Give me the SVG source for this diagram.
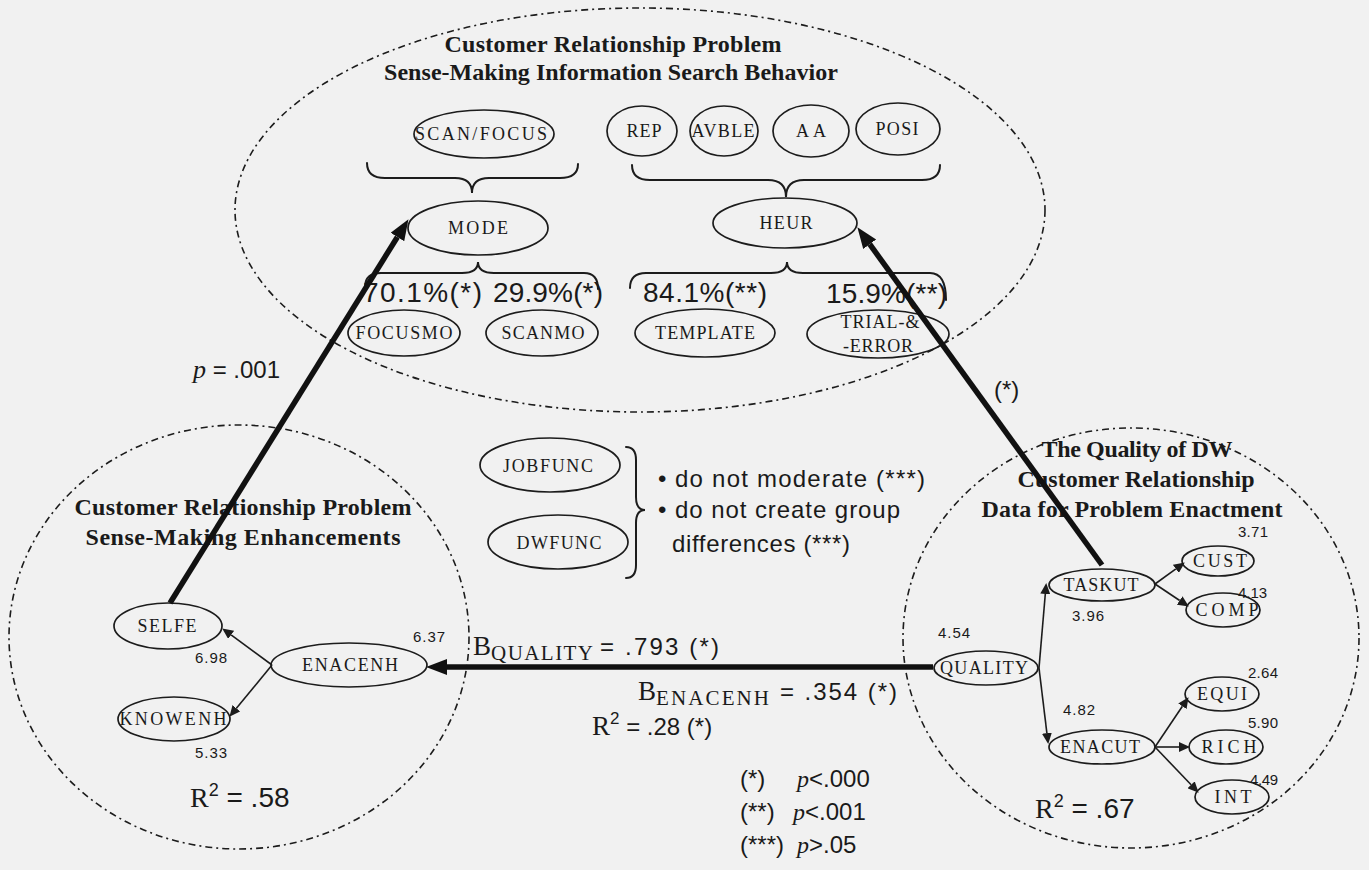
<svg xmlns="http://www.w3.org/2000/svg" width="1369" height="870" viewBox="0 0 1369 870">
  <defs>
    <style>
      .bg { fill: #f1f1f1; }
      .zone { fill: none; stroke: #1c1c1c; stroke-width: 1.6; stroke-dasharray: 7 4 2 4; }
      .node { fill: none; stroke: #1c1c1c; stroke-width: 1.7; }
      .brace { fill: none; stroke: #1c1c1c; stroke-width: 2; stroke-linecap: round; }
      .thick { fill: none; stroke: #111; stroke-width: 5.5; }
      .thin { fill: none; stroke: #1c1c1c; stroke-width: 1.6; }
      .title { font-family: "Liberation Serif", serif; font-weight: bold; font-size: 24px; fill: #1a1a1a; text-anchor: middle; }
      .lbl { font-family: "Liberation Serif", serif; font-size: 18px; fill: #1a1a1a; text-anchor: middle; }
      .num { font-family: "Liberation Sans", sans-serif; font-size: 15px; fill: #1a1a1a; }
      .big { font-family: "Liberation Sans", sans-serif; font-size: 28px; fill: #1a1a1a; }
      .mid { font-family: "Liberation Sans", sans-serif; font-size: 24px; fill: #1a1a1a; }
      .serif { font-family: "Liberation Serif", serif; }
      .it { font-family: "Liberation Serif", serif; font-style: italic; }
    </style>
    <marker id="headThick" markerUnits="userSpaceOnUse" markerWidth="22" markerHeight="18" refX="0" refY="8" orient="auto">
      <path d="M0,0 L21,8 L0,16 z" fill="#111"/>
    </marker>
    <marker id="headThin" markerUnits="userSpaceOnUse" markerWidth="12" markerHeight="10" refX="0" refY="5" orient="auto">
      <path d="M0,0 L11,5 L0,10 z" fill="#1c1c1c"/>
    </marker>
  </defs>

  <rect class="bg" x="0" y="0" width="1369" height="870"/>

  <!-- Information search behaviour cluster -->
  <g id="search-behavior">
    <ellipse class="zone" cx="640" cy="210" rx="405" ry="202"/>
    <text class="title" x="613" y="52" textLength="337">Customer Relationship Problem</text>
    <text class="title" x="611" y="80" textLength="454">Sense-Making Information Search Behavior</text>
    <path class="brace" d="M367,163 Q367,178 385,178 L455,178 Q472,178 472,193 Q472,178 489,178 L560,178 Q578,178 578,164"/>
    <path class="brace" d="M632,165 Q632,180 650,180 L768,180 Q786,180 786,197 Q786,180 804,180 L922,180 Q940,180 940,165"/>
    <path class="brace" d="M365,287 Q365,273 381,273 L462,273 Q478,273 478,262 Q478,273 494,273 L584,273 Q598,273 598,289"/>
    <path class="brace" d="M630,288 Q630,273 646,273 L771,273 Q787,273 787,262 Q787,273 803,273 L930,273 Q946,273 946,300"/>
    <text class="big" x="363" y="302" textLength="119">70.1%(*)</text>
    <text class="big" x="493" y="302" textLength="110">29.9%(*)</text>
    <text class="big" x="643" y="302" textLength="124">84.1%(**)</text>
    <text class="big" x="826" y="303" textLength="121">15.9%(**)</text>
  </g>

  <g id="node-scanfocus">
    <ellipse class="node" cx="484" cy="134" rx="70" ry="24"/>
    <text class="lbl" x="481" y="140" textLength="132">SCAN/FOCUS</text>
  </g>
  <g id="node-rep">
    <ellipse class="node" cx="642" cy="131" rx="35" ry="25"/>
    <text class="lbl" x="644" y="137" textLength="35">REP</text>
  </g>
  <g id="node-avble">
    <ellipse class="node" cx="724" cy="131" rx="34" ry="25"/>
    <text class="lbl" x="723" y="137" textLength="63">AVBLE</text>
  </g>
  <g id="node-aa">
    <ellipse class="node" cx="811" cy="131" rx="38" ry="26"/>
    <text class="lbl" x="811" y="137" textLength="30">AA</text>
  </g>
  <g id="node-posi">
    <ellipse class="node" cx="898" cy="129" rx="42" ry="26"/>
    <text class="lbl" x="897" y="135" textLength="43">POSI</text>
  </g>
  <g id="node-mode">
    <ellipse class="node" cx="478" cy="228" rx="70" ry="27"/>
    <text class="lbl" x="478" y="234" textLength="60">MODE</text>
  </g>
  <g id="node-heur">
    <ellipse class="node" cx="785" cy="223" rx="72" ry="25"/>
    <text class="lbl" x="786" y="229" textLength="53">HEUR</text>
  </g>
  <g id="node-focusmo">
    <ellipse class="node" cx="404" cy="333" rx="56" ry="23"/>
    <text class="lbl" x="404" y="339" textLength="97">FOCUSMO</text>
  </g>
  <g id="node-scanmo">
    <ellipse class="node" cx="542" cy="333" rx="56" ry="23"/>
    <text class="lbl" x="543" y="339" textLength="83">SCANMO</text>
  </g>
  <g id="node-template">
    <ellipse class="node" cx="705" cy="333" rx="70" ry="24"/>
    <text class="lbl" x="705" y="339" textLength="100">TEMPLATE</text>
  </g>
  <g id="node-trial-error">
    <ellipse class="node" cx="878" cy="334" rx="71" ry="24"/>
    <text class="lbl" x="880" y="328" font-size="16" textLength="79">TRIAL-&amp;</text>
    <text class="lbl" x="878" y="352" font-size="16" textLength="70">-ERROR</text>
  </g>

  <!-- Enhancements cluster -->
  <g id="enhancements">
    <ellipse class="zone" cx="239" cy="637" rx="230" ry="212"/>
    <text class="title" x="243" y="515" textLength="337">Customer Relationship Problem</text>
    <text class="title" x="243" y="545" textLength="315">Sense-Making Enhancements</text>
    <text class="num" x="195" y="663" textLength="32">6.98</text>
    <text class="num" x="413" y="642" textLength="32">6.37</text>
    <text class="num" x="195" y="758" textLength="32">5.33</text>
    <text class="big" x="190" y="807"><tspan class="serif">R</tspan><tspan font-size="18" dy="-11">2</tspan><tspan dy="11"> = .58</tspan></text>
  </g>
  <g id="node-selfe">
    <ellipse class="node" cx="168" cy="626" rx="54" ry="23"/>
    <text class="lbl" x="167" y="632" textLength="59">SELFE</text>
  </g>
  <g id="node-enacenh">
    <ellipse class="node" cx="349" cy="665" rx="78" ry="22"/>
    <text class="lbl" x="350" y="671" textLength="96">ENACENH</text>
  </g>
  <g id="node-knowenh">
    <ellipse class="node" cx="174" cy="719" rx="56" ry="22"/>
    <text class="lbl" x="173" y="725" textLength="107">KNOWENH</text>
  </g>

  <!-- Moderators -->
  <g id="node-jobfunc">
    <ellipse class="node" cx="550" cy="465" rx="70" ry="27"/>
    <text class="lbl" x="548" y="472" textLength="90">JOBFUNC</text>
  </g>
  <g id="node-dwfunc">
    <ellipse class="node" cx="558" cy="542" rx="70" ry="27"/>
    <text class="lbl" x="559" y="549" textLength="85">DWFUNC</text>
  </g>
  <g id="moderator-note">
    <path class="brace" d="M626,447 Q636,447 636,460 L636,497 Q636,510 645,510 Q636,510 636,523 L636,565 Q636,578 626,578"/>
    <text class="mid" x="658" y="487">• <tspan x="675" textLength="250">do not moderate (***)</tspan></text>
    <text class="mid" x="658" y="518">• <tspan x="675" textLength="225">do not create group</tspan></text>
    <text class="mid" x="672" y="552" textLength="178">differences (***)</text>
  </g>

  <!-- Data quality cluster -->
  <g id="data-quality">
    <ellipse class="zone" cx="1131" cy="638" rx="228" ry="210"/>
    <text class="title" x="1137" y="457" textLength="191">The Quality of DW</text>
    <text class="title" x="1136" y="487" textLength="237">Customer Relationship</text>
    <text class="title" x="1132" y="517" textLength="301">Data for Problem Enactment</text>
    <text class="num" x="1238" y="537" textLength="30">3.71</text>
    <text class="num" x="1238" y="598" textLength="29">4.13</text>
    <text class="num" x="1072" y="621" textLength="32">3.96</text>
    <text class="num" x="938" y="638" textLength="32">4.54</text>
    <text class="num" x="1063" y="715" textLength="32">4.82</text>
    <text class="num" x="1248" y="678" textLength="30">2.64</text>
    <text class="num" x="1248" y="728" textLength="30">5.90</text>
    <text class="num" x="1250" y="785" textLength="28">4.49</text>
    <text class="big" x="1035" y="818"><tspan class="serif">R</tspan><tspan font-size="18" dy="-11">2</tspan><tspan dy="11"> = .67</tspan></text>
  </g>
  <g id="node-taskut">
    <ellipse class="node" cx="1102" cy="585" rx="53" ry="16"/>
    <text class="lbl" x="1101" y="591" textLength="75">TASKUT</text>
  </g>
  <g id="node-cust">
    <ellipse class="node" cx="1218" cy="561" rx="36" ry="15"/>
    <text class="lbl" x="1220" y="567" textLength="54">CUST</text>
  </g>
  <g id="node-comp">
    <ellipse class="node" cx="1223" cy="610" rx="37" ry="17"/>
    <text class="lbl" x="1227" y="616" textLength="63">COMP</text>
  </g>
  <g id="node-quality">
    <ellipse class="node" cx="986" cy="668" rx="52" ry="17"/>
    <text class="lbl" x="984" y="674" textLength="88">QUALITY</text>
  </g>
  <g id="node-enacut">
    <ellipse class="node" cx="1102" cy="747" rx="53" ry="17"/>
    <text class="lbl" x="1100" y="753" textLength="80">ENACUT</text>
  </g>
  <g id="node-equi">
    <ellipse class="node" cx="1222" cy="694" rx="37" ry="17"/>
    <text class="lbl" x="1222" y="700" textLength="50">EQUI</text>
  </g>
  <g id="node-rich">
    <ellipse class="node" cx="1226" cy="747" rx="37" ry="17"/>
    <text class="lbl" x="1229" y="753" textLength="55">RICH</text>
  </g>
  <g id="node-int">
    <ellipse class="node" cx="1232" cy="797" rx="37" ry="17"/>
    <text class="lbl" x="1233" y="803" textLength="37">INT</text>
  </g>

  <!-- Path coefficients and legend -->
  <g id="path-labels">
    <text class="mid" x="193" y="378"><tspan class="it" font-size="26">p</tspan> = .001</text>
    <text class="mid" x="994" y="398">(*)</text>
    <text class="mid" x="473" y="655"><tspan class="serif" font-size="27">B</tspan><tspan class="serif" font-size="21" dy="5" textLength="102">QUALITY</tspan><tspan x="600" dy="-5" textLength="119">= .793 (*)</tspan></text>
    <text class="mid" x="638" y="700"><tspan class="serif" font-size="27">B</tspan><tspan class="serif" font-size="21" dy="5" textLength="113">ENACENH</tspan><tspan x="780" dy="-5" textLength="117">= .354 (*)</tspan></text>
    <text class="mid" x="592" y="735"><tspan class="serif" font-size="27">R</tspan><tspan font-size="17" dy="-11">2</tspan><tspan dy="11"> = .28 (*)</tspan></text>
    <text class="mid" x="740" y="787">(*)<tspan x="797"><tspan class="it">p</tspan>&lt;.000</tspan></text>
    <text class="mid" x="740" y="820">(**)<tspan x="793"><tspan class="it">p</tspan>&lt;.001</tspan></text>
    <text class="mid" x="740" y="853">(***)<tspan x="797"><tspan class="it">p</tspan>&gt;.05</tspan></text>
  </g>

  <!-- Connectors -->
  <g id="connectors">
    <path class="thick" d="M170,603 L397.4,237" marker-end="url(#headThick)"/>
    <path class="thick" d="M1102,565 L869.7,244.2" marker-end="url(#headThick)"/>
    <path class="thick" d="M933,667 L447,667" marker-end="url(#headThick)"/>
    <path class="thin" d="M272,665 L231.1,634.9" marker-end="url(#headThin)"/>
    <path class="thin" d="M272,665 L236.4,708.3" marker-end="url(#headThin)"/>
    <path class="thin" d="M1039,668 L1045.3,594" marker-end="url(#headThin)"/>
    <path class="thin" d="M1039,668 L1046.9,733.1" marker-end="url(#headThin)"/>
    <path class="thin" d="M1155,584 L1175.9,568.9" marker-end="url(#headThin)"/>
    <path class="thin" d="M1155,584 L1179.7,600.5" marker-end="url(#headThin)"/>
    <path class="thin" d="M1155,747 L1182.4,706.3" marker-end="url(#headThin)"/>
    <path class="thin" d="M1155,747 L1179,747" marker-end="url(#headThin)"/>
    <path class="thin" d="M1155,747 L1191.1,784.8" marker-end="url(#headThin)"/>
  </g>
</svg>
